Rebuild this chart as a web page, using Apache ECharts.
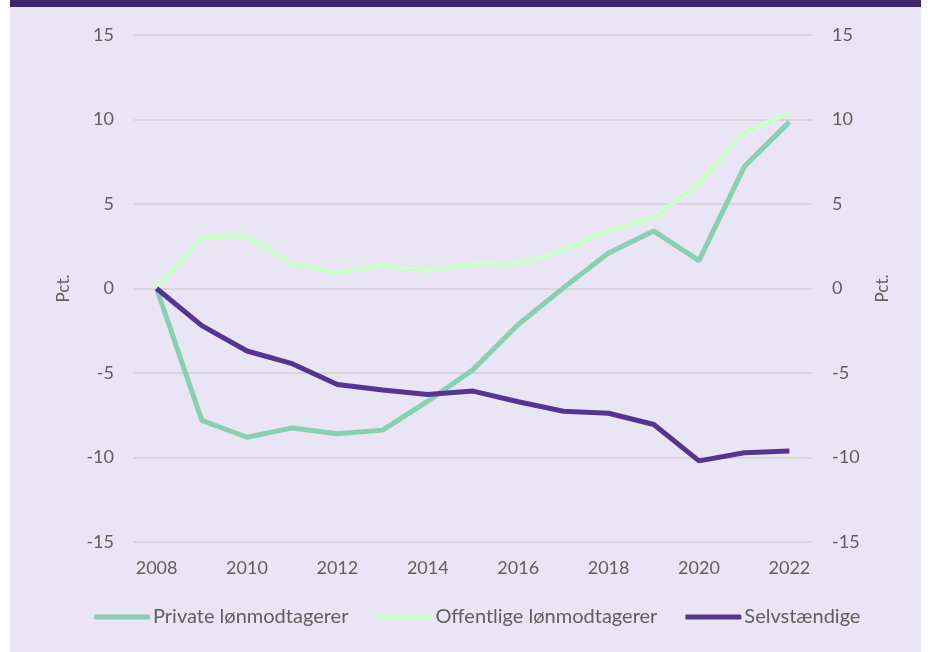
<!DOCTYPE html>
<html>
<head>
<meta charset="utf-8">
<script src="https://cdn.jsdelivr.net/npm/echarts@6/dist/echarts.min.js"></script>
<style>
  html, body { margin: 0; padding: 0; background: #ffffff; }
  #wrap { position: absolute; left: 10px; top: 0; width: 911px; height: 652px; background: #e9e5f4; }
  #bar { position: absolute; left: 0; top: 0; width: 911px; height: 7px; background: #3f2670; }
  #chart { position: absolute; left: -10px; top: 0; width: 931px; height: 652px; }
</style>
</head>
<body>
<div id="wrap"><div id="bar"></div><div id="chart"></div></div>
<script>
// data
const years = ['2008','2009','2010','2011','2012','2013','2014','2015','2016','2017','2018','2019','2020','2021','2022']
const privat = [0, -7.8, -8.8, -8.25, -8.6, -8.38, -6.67, -4.8, -2.13, 0.04, 2.1, 3.4, 1.65, 7.2, 9.86]
const offentlig = [0, 3.06, 3.1, 1.42, 0.93, 1.34, 1.06, 1.46, 1.48, 2.27, 3.43, 4.2, 6.25, 9.25, 10.4]
const selvst = [0, -2.2, -3.7, -4.45, -5.68, -6.0, -6.27, -6.07, -6.7, -7.26, -7.38, -8.05, -10.2, -9.72, -9.62]

const textCol = '#5f5f5f'
const fontFam = 'Lato'

const chart = echarts.init(document.getElementById('chart'))

function yAx(pos){
  return {
    type: 'value', position: pos, min: -15, max: 15, interval: 5,
    name: 'Pct.', nameLocation: 'middle', nameGap: 62,
    nameRotate: 90,
    nameTextStyle: { color: textCol, fontSize: 17, fontFamily: fontFam },
    axisLine: { show: false }, axisTick: { show: false },
    axisLabel: { color: textCol, fontSize: 18, fontFamily: fontFam, margin: 20 },
    splitLine: { show: pos === 'left', lineStyle: { color: '#d9d5dc', width: 2 } }
  }
}

const option = {
  backgroundColor: 'transparent',
  grid: { left: 134, right: 119, top: 35, bottom: 110 },
  xAxis: {
    type: 'category', data: years, boundaryGap: true,
    axisLine: { show: false }, axisTick: { show: false },
    axisLabel: { color: textCol, fontSize: 18, fontFamily: fontFam, margin: 17, interval: 1 }
  },
  yAxis: [yAx('left'), yAx('right')],
  legend: {
    bottom: 20, left: 89, itemWidth: 56, itemHeight: 5, itemGap: 28,
    icon: 'roundRect',
    textStyle: { color: textCol, fontSize: 20, fontFamily: fontFam, padding: [0, 0, 0, -2] },
    data: ['Private lønmodtagerer', 'Offentlige lønmodtagerer', 'Selvstændige']
  },
  series: [
    { name: 'Private lønmodtagerer', type: 'line', data: privat, symbol: 'none',
      color: '#88d0b4', lineStyle: { width: 5, color: '#88d0b4' } },
    { name: 'Offentlige lønmodtagerer', type: 'line', data: offentlig, symbol: 'none',
      color: '#ccffcc', lineStyle: { width: 5, color: '#ccffcc' } },
    { name: 'Selvstændige', type: 'line', data: selvst, symbol: 'none',
      color: '#553494', lineStyle: { width: 5, color: '#553494' }, z: 3 }
  ]
}
chart.setOption(option)
</script>
</body>
</html>
